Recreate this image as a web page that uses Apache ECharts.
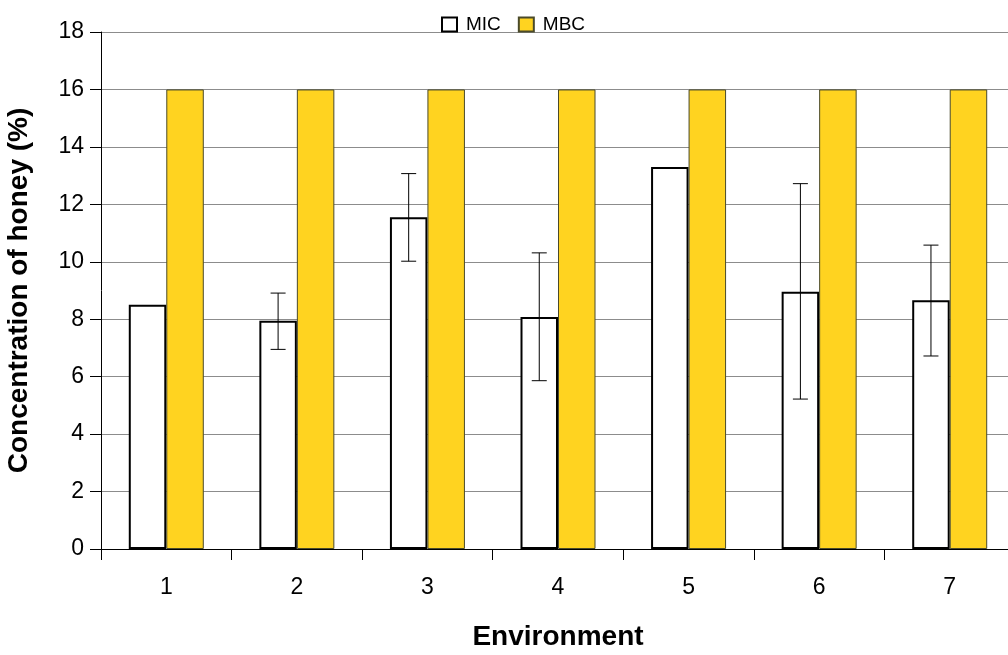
<!DOCTYPE html>
<html>
<head>
<meta charset="utf-8">
<script src="https://cdn.jsdelivr.net/npm/echarts@6/dist/echarts.min.js"></script>
<style>html,body{margin:0;padding:0;background:#fff;}#c{width:1008px;height:655px;}</style>
</head>
<body>
<div id="c"></div>
<script>
const categories = ['1', '2', '3', '4', '5', '6', '7'];
const micValues = [8.5, 7.95, 11.55, 8.08, 13.3, 8.96, 8.66];
const mbcValues = [16, 16, 16, 16, 16, 16, 16];
const micErrLow = [null, 6.95, 10.02, 5.86, null, 5.22, 6.72];
const micErrHigh = [null, 8.91, 13.07, 10.31, null, 12.72, 10.58];
const yTicks = { min: 0, max: 18, interval: 2 };

const BAR_W = 37.5;
const chart = echarts.init(document.getElementById('c'), null, { renderer: 'canvas' });
const errData = categories.map((c, i) => [i, micErrLow[i], micErrHigh[i]]).filter(d => d[1] != null);

chart.setOption({
  animation: false,
  backgroundColor: '#fff',
  textStyle: { fontFamily: 'Liberation Sans, Arial, sans-serif' },
  legend: {
    data: ['MIC', 'MBC'],
    left: 436, top: 10,
    itemWidth: 15, itemHeight: 14, itemGap: 17,
    icon: 'rect',
    textStyle: { fontSize: 19, color: '#000', padding: [0, 0, 0, 4] }
  },
  grid: { left: 101, right: -7, top: 32, bottom: 106, containLabel: false, outerBoundsMode: 'none' },
  xAxis: {
    type: 'category',
    data: categories,
    name: 'Environment',
    nameLocation: 'middle',
    nameGap: 74,
    nameTextStyle: { fontSize: 28, fontWeight: 'bold', color: '#000' },
    axisLine: { lineStyle: { color: '#000', width: 1 } },
    axisTick: { show: true, length: 11, lineStyle: { color: '#000' } },
    axisLabel: { fontSize: 23, color: '#000', margin: 27 },
    splitLine: { show: false }
  },
  yAxis: {
    type: 'value',
    min: yTicks.min, max: yTicks.max, interval: yTicks.interval,
    name: 'Concentration of honey (%)',
    nameLocation: 'middle',
    nameGap: 68,
    nameTextStyle: { fontSize: 28, fontWeight: 'bold', color: '#000' },
    axisLine: { show: true, lineStyle: { color: '#000', width: 1 } },
    axisTick: { show: true, length: 11, lineStyle: { color: '#000' } },
    axisLabel: { fontSize: 23, color: '#000', margin: 17 },
    splitLine: { show: true, lineStyle: { color: '#8c8c8c', width: 1 } }
  },
  series: [
    {
      name: 'MIC', type: 'bar', data: micValues,
      barWidth: BAR_W, barGap: '0%',
      itemStyle: { color: '#fff', borderColor: '#000', borderWidth: 2 },
      z: 2
    },
    {
      name: 'MBC', type: 'bar', data: mbcValues,
      barWidth: BAR_W,
      itemStyle: { color: '#FFD320', borderColor: '#4a4a2a', borderWidth: 1 },
      z: 2
    },
    {
      name: 'err', type: 'custom',
      data: errData,
      z: 5,
      renderItem: function (params, api) {
        const idx = api.value(0);
        const lo = api.coord([idx, api.value(1)]);
        const hi = api.coord([idx, api.value(2)]);
        const x = lo[0] - BAR_W / 2;
        const cap = 7.5;
        const st = { stroke: '#000', lineWidth: 1 };
        return {
          type: 'group',
          children: [
            { type: 'line', shape: { x1: x, y1: hi[1], x2: x, y2: lo[1] }, style: st },
            { type: 'line', shape: { x1: x - cap, y1: hi[1], x2: x + cap, y2: hi[1] }, style: st },
            { type: 'line', shape: { x1: x - cap, y1: lo[1], x2: x + cap, y2: lo[1] }, style: st }
          ]
        };
      }
    }
  ]
});
</script>
</body>
</html>
